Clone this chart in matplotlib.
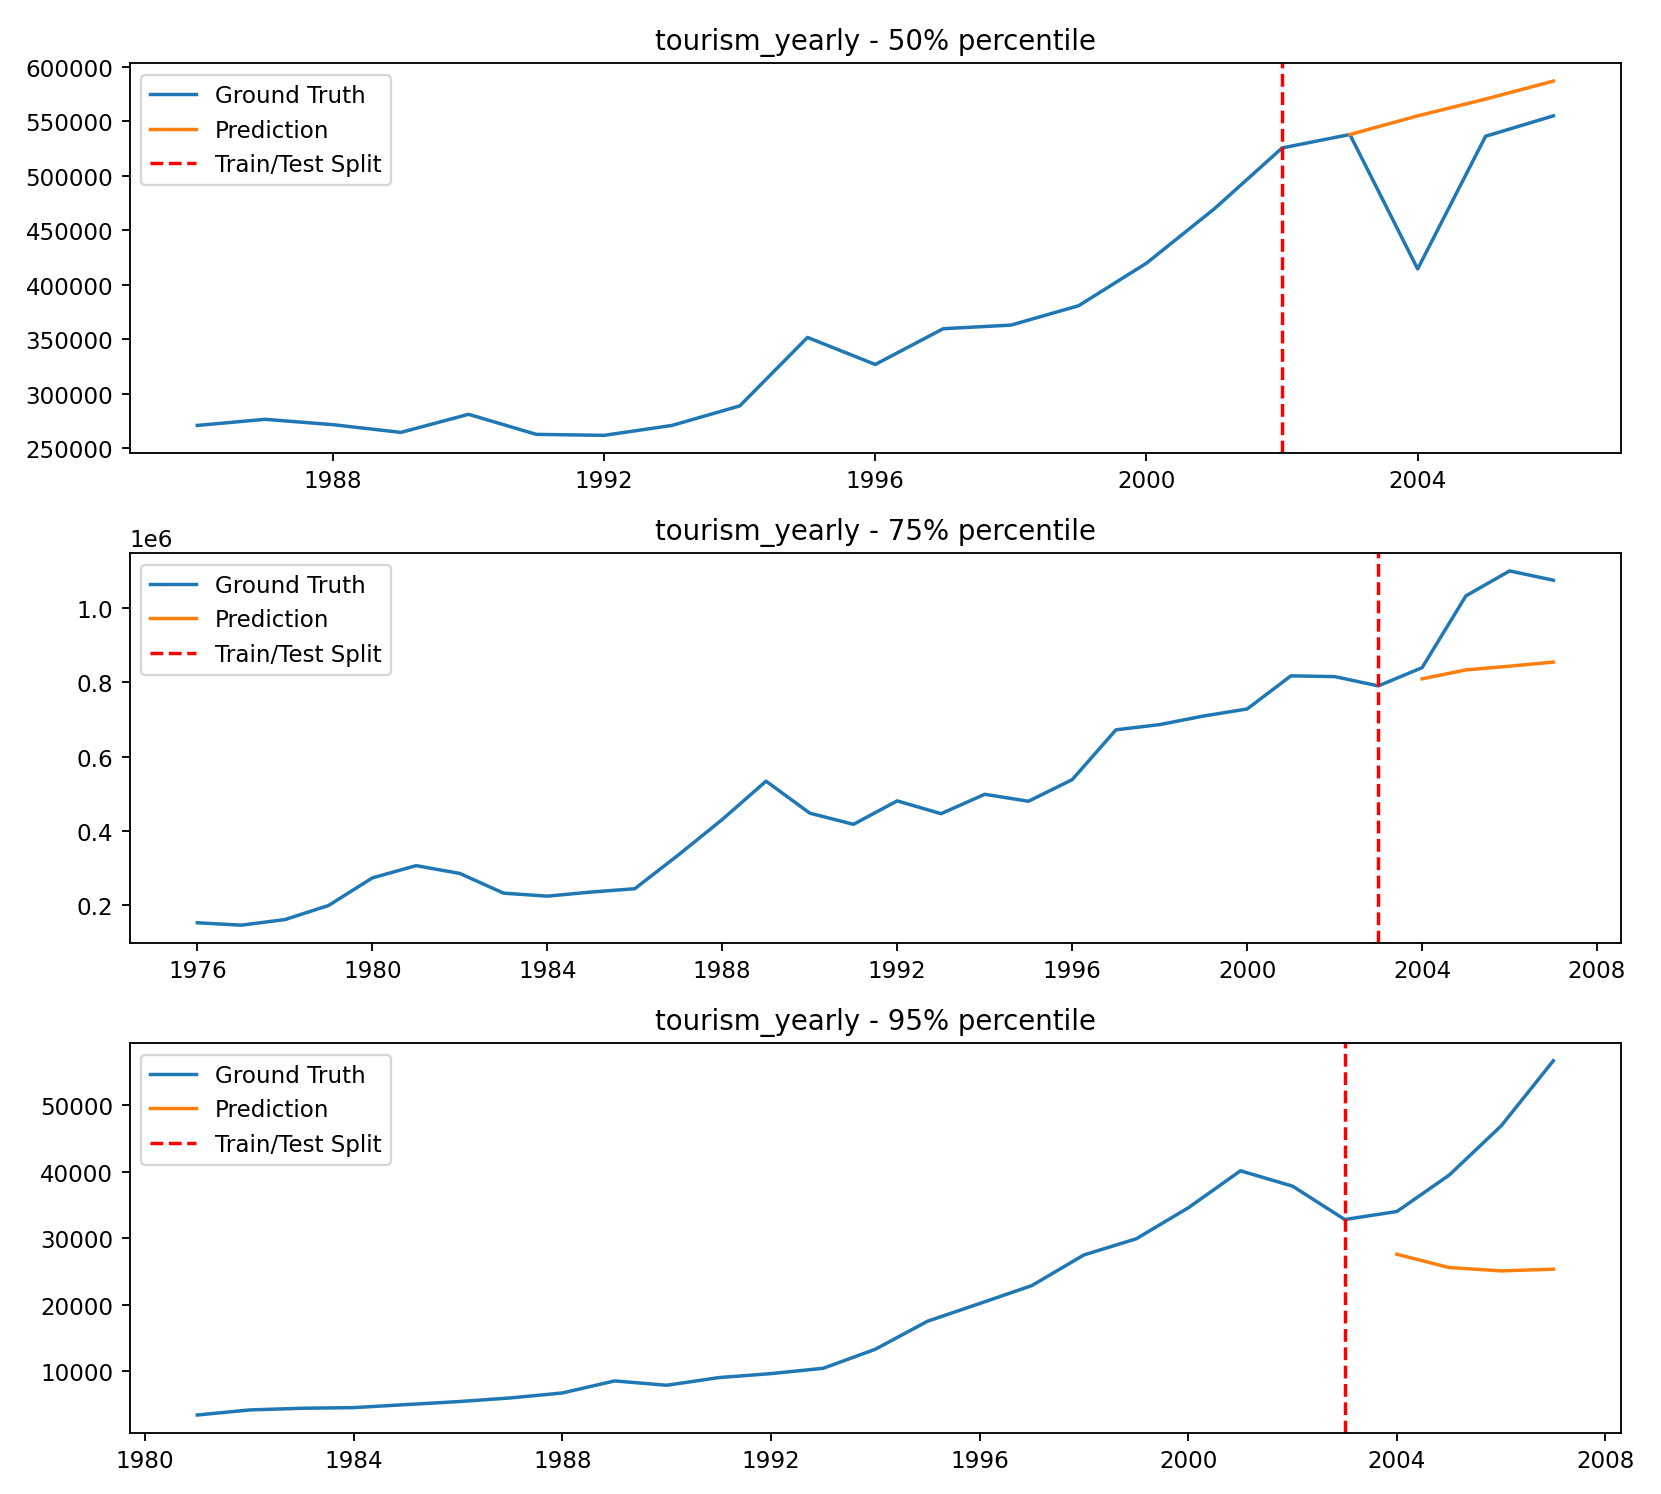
import matplotlib
matplotlib.use("Agg")
import matplotlib.pyplot as plt
from datetime import datetime

# Panel 1: 50% percentile
years_50 = list(range(1986, 2007))
truth_50 = [271000, 276600, 271700, 264600, 281200, 262800, 261900, 271000, 288900,
            351700, 326900, 359700, 363000, 380800, 419800, 469700, 525500, 537800,
            414500, 536200, 554900]
pred_years_50 = [2003, 2004, 2005, 2006]
pred_50 = [537800, 554900, 570300, 586800]
split_50 = 2002

# Panel 2: 75% percentile
years_75 = list(range(1976, 2008))
truth_75 = [153400, 147000, 162000, 200000, 274000, 307000, 286000, 233000, 225000,
            236000, 245000, 336000, 431000, 534000, 448000, 418000, 481000, 446600,
            498700, 480000, 538000, 672000, 686000, 709000, 728000, 817000, 815000,
            790000, 839000, 1032000, 1099000, 1074000]
pred_years_75 = [2004, 2005, 2006, 2007]
pred_75 = [809000, 833000, 843000, 854000]
split_75 = 2003

# Panel 3: 95% percentile
years_95 = list(range(1981, 2008))
truth_95 = [3430, 4190, 4440, 4540, 4990, 5440, 5990, 6740, 8550, 7900, 9050, 9650,
            10450, 13310, 17520, 20180, 22880, 27490, 29900, 34560, 40130, 37820,
            32810, 34010, 39470, 46890, 56670]
pred_years_95 = [2004, 2005, 2006, 2007]
pred_95 = [27590, 25590, 25090, 25340]
split_95 = 2003

titles = ["tourism_yearly - 50% percentile",
          "tourism_yearly - 75% percentile",
          "tourism_yearly - 95% percentile"]

panels = [
    (years_50, truth_50, pred_years_50, pred_50, split_50),
    (years_75, truth_75, pred_years_75, pred_75, split_75),
    (years_95, truth_95, pred_years_95, pred_95, split_95),
]


def to_dates(ys):
    return [datetime(y, 1, 1) for y in ys]


fig, axes = plt.subplots(3, 1, figsize=(10, 9), dpi=166.1)
fig.subplots_adjust(left=0.078, right=0.976, top=0.957, bottom=0.041, hspace=0.257)

for ax, title, (yrs, truth, pyrs, pred, split) in zip(axes, titles, panels):
    ax.plot(to_dates(yrs), truth, color="#1f77b4", label="Ground Truth")
    ax.plot(to_dates(pyrs), pred, color="#ff7f0e", label="Prediction")
    ax.axvline(datetime(split, 1, 1), color="red", linestyle="--", label="Train/Test Split")
    ax.set_title(title)
    ax.legend(loc="upper left")

fig.savefig("out.png", dpi=166.1)
